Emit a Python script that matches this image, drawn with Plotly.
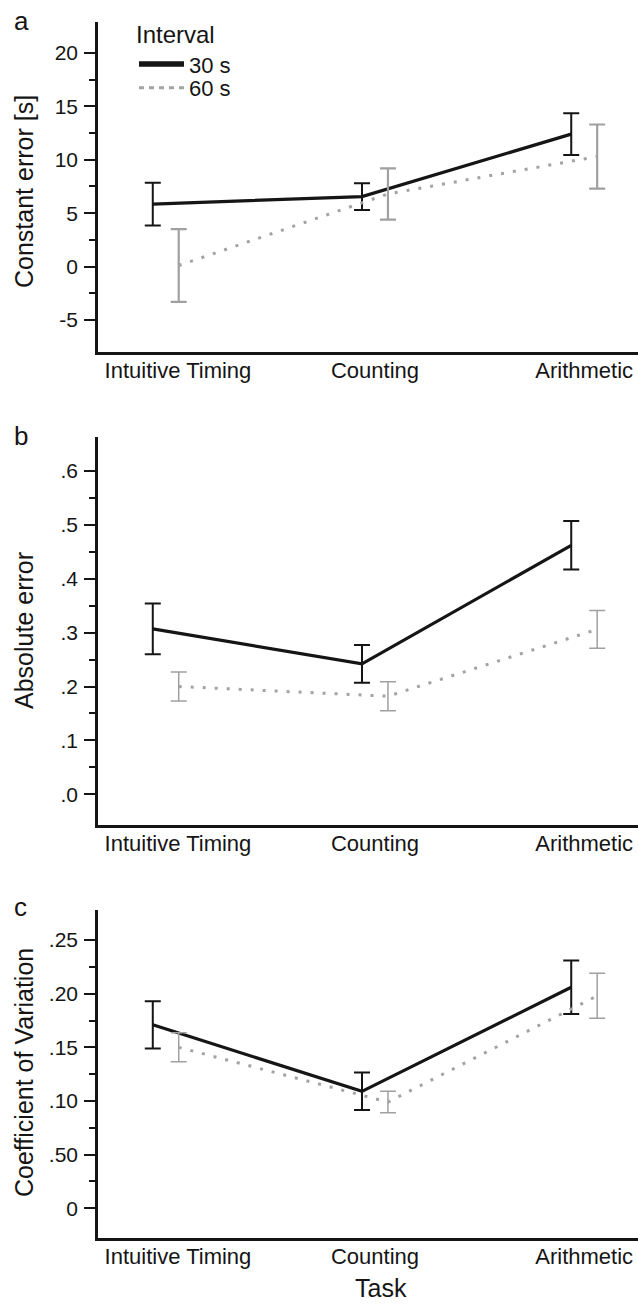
import plotly.graph_objects as go

# ---------------- data ----------------
tasks = ["Intuitive Timing", "Counting", "Arithmetic"]
intervals = ["30 s", "60 s"]

# panel a: constant error [s]
ce_30 = [5.85, 6.55, 12.4]
ce_30_err = [2.0, 1.25, 1.95]
ce_60 = [0.1, 6.8, 10.3]
ce_60_err = [3.4, 2.4, 3.0]

# panel b: absolute error
ae_30 = [0.307, 0.242, 0.462]
ae_30_err = [0.047, 0.035, 0.045]
ae_60 = [0.200, 0.182, 0.306]
ae_60_err = [0.027, 0.027, 0.035]

# panel c: coefficient of variation
cv_30 = [0.171, 0.109, 0.206]
cv_30_err = [0.022, 0.0175, 0.025]
cv_60 = [0.150, 0.099, 0.198]
cv_60_err = [0.0135, 0.010, 0.021]

ticks_a = [-5, 0, 5, 10, 15, 20]
ticktext_a = ["-5", "0", "5", "10", "15", "20"]
ticks_b = [0.0, 0.1, 0.2, 0.3, 0.4, 0.5, 0.6]
ticktext_b = [".0", ".1", ".2", ".3", ".4", ".5", ".6"]
ticks_c = [0.0, 0.05, 0.10, 0.15, 0.20, 0.25]
ticktext_c = ["0", ".50", ".10", ".15", ".20", ".25"]

# ---------------- layout helpers ----------------
W, H = 638, 1309
AXL = 98            # page x of the y-axis line
ML = AXL
PW = W - ML


def py(y):
    return 1 - y / H


def px(x):
    return (x - AXL) / PW


FONT = "Liberation Sans, Arial, sans-serif"
OFF = 0.062
BLACK = "#151515"
GREY_LINE = "#a3a3a3"
GREY_ERR = "#a0a0a0"

cat_idx = list(range(len(tasks)))
x30 = [i - OFF for i in cat_idx]
x60 = [i + OFF for i in cat_idx]

fig = go.Figure()

panels = [
    (ce_30, ce_30_err, ce_60, ce_60_err, 2.0, 2.2),
    (ae_30, ae_30_err, ae_60, ae_60_err, 2.0, 1.5),
    (cv_30, cv_30_err, cv_60, cv_60_err, 2.0, 1.5),
]

for k, (m30, e30, m60, e60, th30, th60) in enumerate(panels):
    sfx = "" if k == 0 else str(k + 1)
    fig.add_trace(go.Scatter(
        x=x30, y=m30, mode="lines", name=intervals[0],
        line=dict(color=BLACK, width=3.2),
        error_y=dict(type="data", array=e30, color=BLACK, thickness=th30, width=8),
        showlegend=False, xaxis="x" + sfx, yaxis="y" + sfx,
    ))
    fig.add_trace(go.Scatter(
        x=x60, y=m60, mode="lines", name=intervals[1],
        line=dict(color=GREY_LINE, width=3, dash="3px,9px"),
        error_y=dict(type="data", array=e60, color=GREY_ERR, thickness=th60, width=8),
        showlegend=False, xaxis="x" + sfx, yaxis="y" + sfx,
    ))

# legend keys (legend-only entries with the reference's key styling)
fig.add_trace(go.Scatter(x=[None], y=[None], mode="lines", name=intervals[0],
                         line=dict(color=BLACK, width=5.5), legend="legend"))
fig.add_trace(go.Scatter(x=[None], y=[None], mode="lines", name=intervals[1],
                         line=dict(color=GREY_LINE, width=3, dash="5px,5px"),
                         legend="legend2"))


def minor_vals(t):
    return [(a + b) / 2 for a, b in zip(t[:-1], t[1:])]


xrange_ = [-(166 - AXL) / 210, 2 + (638 - 584) / 210]
xticktext = ["\u00a0\u00a0\u00a0\u00a0" + tasks[0]] + tasks[1:]

dom = [(22, 352), (437, 825), (910, 1238)]
yranges = [[-8.0, 22.9], [-0.057, 0.663], [-0.0277, 0.278]]
ytv = [ticks_a, ticks_b, ticks_c]
ytt = [ticktext_a, ticktext_b, ticktext_c]

leg_common = dict(
    font=dict(size=22, family=FONT, color=BLACK),
    xanchor="left", yanchor="top", bgcolor="rgba(0,0,0,0)",
    tracegroupgap=0, itemwidth=45,
)

layout = dict(
    width=W, height=H,
    margin=dict(l=ML, r=0, t=0, b=0),
    paper_bgcolor="white", plot_bgcolor="white",
    font=dict(family=FONT, color=BLACK),
    legend=dict(
        title=dict(text="Interval", font=dict(size=24, family=FONT, color=BLACK), side="top"),
        x=px(134), y=py(12), **leg_common,
    ),
    legend2=dict(x=px(134), y=py(67), **leg_common),
)

for k in range(3):
    sfx = "" if k == 0 else str(k + 1)
    top, bot = dom[k]
    layout["xaxis" + sfx] = dict(
        domain=[0, 1], anchor="y" + sfx, range=xrange_,
        tickmode="array", tickvals=cat_idx, ticktext=xticktext,
        tickfont=dict(size=22, family=FONT, color=BLACK),
        showline=True, linecolor=BLACK, linewidth=2.5,
        ticks="", showgrid=False, zeroline=False, ticklabelstandoff=-3,
    )
    layout["yaxis" + sfx] = dict(
        domain=[py(bot), py(top)], anchor="x" + sfx, range=yranges[k],
        tickmode="array", tickvals=ytv[k], ticktext=ytt[k],
        tickfont=dict(size=21, family=FONT, color=BLACK),
        showline=True, linecolor=BLACK, linewidth=2.5,
        ticks="outside", ticklen=11, tickwidth=2, tickcolor=BLACK,
        minor=dict(tickmode="array", tickvals=minor_vals(ytv[k]), ticks="outside",
                   ticklen=6, tickwidth=2, tickcolor=BLACK),
        showgrid=False, zeroline=False, ticklabelstandoff=2,
    )

fig.update_layout(**layout)

ann = []
for lab, yc in [("a", 21), ("b", 436), ("c", 907)]:
    ann.append(dict(text=lab, xref="paper", yref="paper", x=px(12), y=py(yc),
                    xanchor="left", yanchor="middle", showarrow=False,
                    font=dict(size=26, family=FONT, color=BLACK)))
for lab, yc in [("Constant error [s]", 192), ("Absolute error", 631),
                ("Coefficient of Variation", 1073)]:
    ann.append(dict(text=lab, xref="paper", yref="paper", x=px(24), y=py(yc),
                    xanchor="center", yanchor="middle", textangle=-90, showarrow=False,
                    font=dict(size=25, family=FONT, color=BLACK)))
ann.append(dict(text="Task", xref="paper", yref="paper", x=px(381), y=py(1288),
                xanchor="center", yanchor="middle", showarrow=False,
                font=dict(size=25, family=FONT, color=BLACK)))
fig.update_layout(annotations=ann)

fig.write_html(
    "out.html",
    config={"displayModeBar": False},
    post_script="document.body.style.margin='0';document.body.style.overflow='hidden';",
)
